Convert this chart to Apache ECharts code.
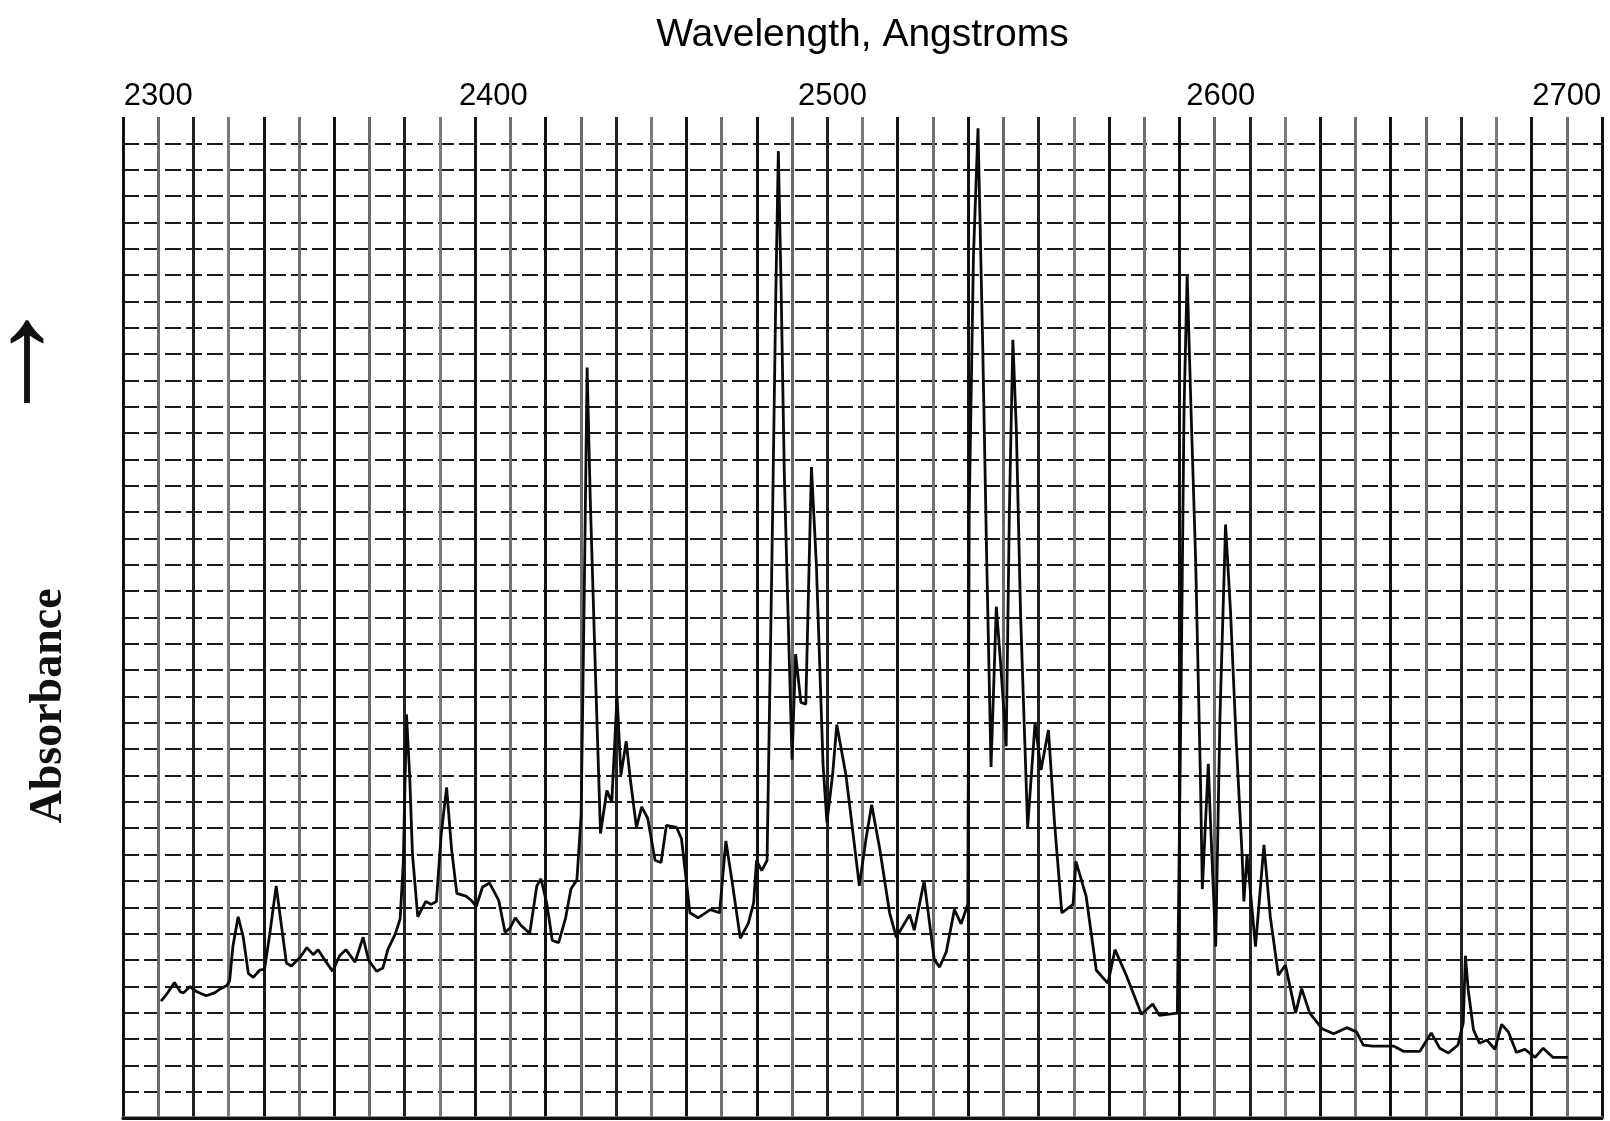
<!DOCTYPE html>
<html>
<head>
<meta charset="utf-8">
<script src="https://cdn.jsdelivr.net/npm/echarts@6/dist/echarts.min.js"></script>
<style>
html,body{margin:0;padding:0;background:#fff;}
#chart{width:1610px;height:1121px;}
</style>
</head>
<body>
<div id="chart"></div>
<script>
// Wavelength (Angstroms) of traced points
const wavelength = [
2300.8,2302.5,2304.6,2306.3,2307.2,2309.0,2311.0,2313.6,2316.0,2317.7,
2319.5,2320.3,2321.2,2322.7,2324.1,2325.6,2327.0,2328.8,2330.2,2331.7,
2333.5,2334.9,2336.4,2337.8,2340.2,2342.2,2344.0,2345.4,2346.9,2349.5,
2351.5,2353.3,2355.9,2358.2,2359.7,2362.0,2363.8,2365.2,2367.3,2368.7,
2369.6,2370.5,2371.4,2372.2,2373.7,2374.9,2376.0,2377.5,2379.0,2380.4,
2381.9,2383.3,2384.8,2387.4,2388.9,2390.3,2392.1,2394.1,2396.7,2398.5,
2399.9,2401.4,2402.9,2405.5,2407.5,2408.7,2410.4,2411.9,2413.7,2415.7,
2417.2,2418.9,2420.1,2420.9,2421.8,2422.7,2424.2,2425.6,2427.4,2428.8,
2430.3,2431.4,2432.9,2434.1,2435.8,2437.3,2439.0,2441.1,2442.8,2444.3,
2447.2,2448.6,2451.0,2453.3,2456.8,2459.4,2461.2,2462.9,2465.3,2467.6,
2469.1,2469.9,2471.4,2472.9,2474.3,2475.4,2476.1,2476.9,2477.8,2479.2,
2480.0,2481.0,2482.5,2483.9,2485.5,2486.9,2488.8,2489.9,2491.5,2492.7,
2495.3,2498.2,2499.1,2501.0,2502.6,2504.9,2507.7,2509.6,2513.4,2514.7,
2517.5,2520.4,2521.9,2523.8,2526.1,2528.0,2529.9,2530.3,2531.5,2532.8,
2534.1,2535.3,2536.5,2538.0,2539.3,2540.8,2541.7,2542.7,2543.7,2544.9,
2546.9,2549.0,2550.7,2552.8,2554.5,2556.6,2559.8,2560.6,2563.5,2566.4,
2569.7,2571.7,2574.9,2579.2,2582.4,2584.3,2589.4,2590.4,2591.3,2592.2,
2593.3,2594.6,2596.0,2596.5,2598.2,2598.8,2600.3,2601.5,2603.1,2604.5,
2606.1,2607.8,2608.3,2609.2,2611.6,2614.0,2615.8,2618.1,2620.1,2623.0,
2624.7,2627.0,2630.5,2633.8,2637.5,2640.3,2642.2,2644.9,2650.8,2653.6,
2658.3,2661.5,2663.9,2666.4,2669.1,2670.6,2671.2,2672.0,2673.5,2675.2,
2677.3,2679.6,2681.5,2683.4,2685.7,2688.1,2691.0,2693.3,2696.1,2700.3
];
// Absorbance (in chart-grid divisions)
const absorbance = [
4.44,4.72,5.14,4.79,4.75,4.99,4.79,4.64,4.75,4.91,
5.03,5.22,6.51,7.64,6.90,5.49,5.34,5.61,5.65,7.01,
8.81,7.40,5.88,5.77,6.08,6.47,6.20,6.39,6.08,5.57,
6.16,6.39,5.92,6.86,6.00,5.57,5.69,6.39,6.98,7.56,
9.70,15.32,13.02,10.02,7.64,7.95,8.22,8.11,8.22,10.83,
12.55,10.21,8.53,8.42,8.26,8.03,8.77,8.92,8.26,7.05,
7.21,7.60,7.33,7.01,8.81,9.08,8.11,6.74,6.66,7.60,
8.69,9.04,11.50,19.06,28.49,23.46,16.72,10.80,12.43,12.00,
16.02,13.02,14.30,12.82,11.03,11.81,11.38,9.78,9.70,11.11,
11.03,10.60,7.79,7.60,7.91,7.79,10.52,9.04,6.82,7.40,
8.18,9.78,9.39,9.78,21.40,31.41,36.71,31.41,24.43,17.42,
13.60,17.61,15.78,15.71,24.71,21.01,13.41,11.22,13.02,14.93,
13.02,9.82,8.81,10.60,11.89,10.21,7.79,6.86,7.72,7.13,
9.00,6.00,5.73,6.31,7.91,7.37,8.11,22.95,32.70,37.57,
29.58,21.01,13.33,19.41,17.11,14.11,22.95,29.54,26.07,19.06,
11.03,15.00,13.21,14.73,11.26,7.79,8.11,9.74,8.42,5.61,
5.11,6.39,5.42,3.94,4.33,3.90,3.98,15.43,26.85,32.00,
26.85,21.20,12.67,8.69,13.45,11.30,6.51,15.16,22.53,19.25,
14.38,9.98,8.22,9.98,6.51,10.37,7.64,5.42,5.81,3.98,
4.91,3.98,3.39,3.20,3.43,3.27,2.77,2.73,2.73,2.53,
2.53,3.23,2.65,2.47,2.77,3.62,6.16,4.87,3.35,2.84,
2.96,2.61,3.55,3.27,2.49,2.61,2.30,2.65,2.30,2.30
];
const tickLabels = ['2300','2400','2500','2600','2700'];
const xTitle = 'Wavelength, Angstroms';
const yTitle = 'Absorbance';

// label nudges (style only): printed labels in the original sit left of their grid lines
const baseLbl = {fontFamily:'Liberation Sans', fontSize:31, color:'#000'};
const labelRich = {
  n:   Object.assign({}, baseLbl),
  s17: Object.assign({padding:[0,34,0,0]}, baseLbl),
  s30: Object.assign({padding:[0,60,0,0]}, baseLbl),
  r6:  Object.assign({padding:[0,0,0,12]}, baseLbl)
};
const labelStyleKey = {'2300':'n','2400':'s17','2500':'s30','2600':'r6','2700':'n'};

const chart = echarts.init(document.getElementById('chart'), null, {renderer:'canvas'});
const seriesData = wavelength.map((w,i)=>[w, absorbance[i]]);

chart.setOption({
  backgroundColor:'#ffffff',
  animation:false,
  grid:{left:123, right:8, top:117, bottom:3, containLabel:false},
  xAxis:[{
    type:'value', position:'top', min:2290, max:2710, interval:10,
    name:xTitle, nameLocation:'middle', nameGap:82,
    nameTextStyle:{fontFamily:'Liberation Sans', fontSize:39, color:'#000', verticalAlign:'middle'},
    axisLine:{show:true, lineStyle:{color:'#777', width:3.5}},
    axisTick:{show:false},
    axisLabel:{
      show:true, margin:5,
      formatter:function(v){
        const s = String(Math.round(v));
        return tickLabels.indexOf(s) >= 0 ? '{' + labelStyleKey[s] + '|' + s + '}' : '';
      },
      rich:labelRich
    },
    splitLine:{show:true, lineStyle:{color:['#111','#6a6a6a','#222','#7a7a7a','#151515','#707070'], width:3}}
  },{
    type:'value', position:'bottom', min:2290, max:2710, interval:10,
    axisLine:{show:true, onZero:false, lineStyle:{color:'#111', width:3}},
    axisTick:{show:false}, axisLabel:{show:false}, splitLine:{show:false}
  }],
  yAxis:{
    type:'value', min:0, max:38, interval:1,
    axisLine:{show:false}, axisTick:{show:false}, axisLabel:{show:false},
    splitLine:{show:true, showMinLine:false, showMaxLine:false,
      lineStyle:{color:'#1a1a1a', width:2, type:[16,5]}}
  },
  graphic:[
    {type:'text', x:49, y:706, rotation:Math.PI/2,
      style:{text:yTitle, font:'bold 46px "Liberation Serif"', fill:'#111', align:'center', verticalAlign:'middle'}},
    {type:'text', x:27, y:362,
      style:{text:'\u2191', font:'140px "Liberation Serif"', fill:'#111', align:'center', verticalAlign:'middle'}}
  ],
  series:[{
    type:'line', xAxisIndex:0, data:seriesData, showSymbol:false, smooth:false,
    lineStyle:{color:'#0a0a0a', width:2.8}, z:5
  }]
});
</script>
</body>
</html>
